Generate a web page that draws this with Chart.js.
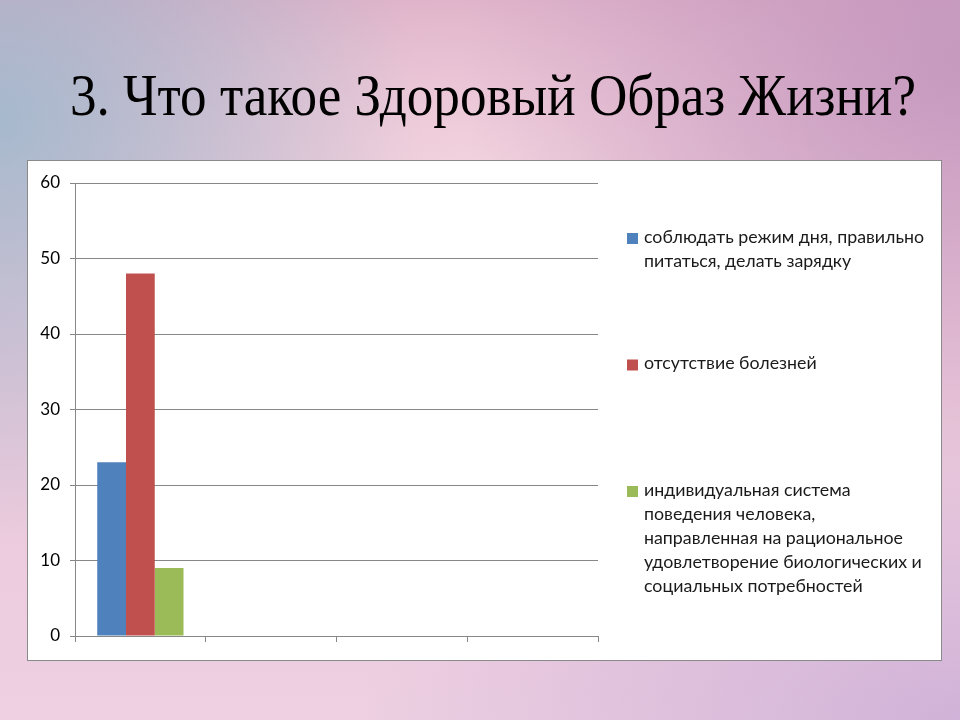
<!DOCTYPE html>
<html>
<head>
<meta charset="utf-8">
<script src="https://cdn.jsdelivr.net/npm/chart.js@4.4.1/dist/chart.umd.min.js"></script>
<style>
  html, body { margin: 0; padding: 0; }
  body {
    width: 960px; height: 720px; position: relative; overflow: hidden;
    background:
      radial-gradient(ellipse 420px 420px at 0px 120px, rgba(160,185,205,0.9), rgba(160,185,205,0) 100%),
      radial-gradient(ellipse 500px 420px at 960px 60px, rgba(195,150,190,0.9), rgba(195,150,190,0) 100%),
      radial-gradient(ellipse 600px 300px at 960px 720px, rgba(205,175,215,0.9), rgba(205,175,215,0) 100%),
      radial-gradient(ellipse 600px 240px at 480px 170px, rgba(245,215,225,0.85), rgba(245,215,225,0) 100%),
      linear-gradient(180deg, #d9a9c3 0%, #e9c4d7 40%, #eed0e2 100%);
  }
  h1 {
    position: absolute; left: 70px; top: 60px; margin: 0;
    white-space: nowrap; transform-origin: 0 0; transform: scaleX(0.9);
    font-family: "Liberation Serif", "DejaVu Serif", serif;
    font-weight: normal; font-size: 59px; line-height: 70px; color: #000;
  }
  #box {
    position: absolute; left: 27px; top: 160px; width: 913px; height: 499px;
    background: #fff; border: 1px solid #8a8a8a;
  }
  #box canvas { display: block; }
</style>
</head>
<body>
<h1>3. Что такое Здоровый Образ Жизни?</h1>
<div id="box"><canvas id="grafico" width="913" height="499"></canvas></div>
<script>
// dados do grafico
var categorias = ["Категория 1", "Категория 2", "Категория 3", "Категория 4"];
var nomes_series = [
  "соблюдать режим дня, правильно питаться, делать зарядку",
  "отсутствие болезней",
  "индивидуальная система поведения человека, направленная на рациональное удовлетворение биологических и социальных потребностей"
];
var serie_1 = [23, null, null, null];
var serie_2 = [48, null, null, null];
var serie_3 = [9, null, null, null];
var cores = ["#4F81BD", "#C0504D", "#9BBB59"];
var ticks_y = [0, 10, 20, 30, 40, 50, 60];

var fonte = "Lato, 'Open Sans', sans-serif";

// legenda desenhada a direita, com quebra de linha
const legenda_direita = {
  id: "legenda_direita",
  afterDraw(chart) {
    var c = chart.ctx;
    var x0 = 599, topo = 72, passo = 126.5, alturaLinha = 24, larguraMax = 285;
    c.save();
    c.font = "17.8px " + fonte;
    c.textBaseline = "top";
    chart.data.datasets.forEach(function (ds, i) {
      var y = topo + i * passo;
      c.fillStyle = ds.backgroundColor;
      c.fillRect(x0, y, 11, 11);
      var palavras = ds.label.split(" ");
      var linhas = [], atual = "";
      palavras.forEach(function (p) {
        var teste = atual ? atual + " " + p : p;
        if (c.measureText(teste).width > larguraMax && atual) {
          linhas.push(atual);
          atual = p;
        } else {
          atual = teste;
        }
      });
      linhas.push(atual);
      c.fillStyle = "#1a1a1a";
      linhas.forEach(function (l, k) {
        c.fillText(l, x0 + 17, y - 5 + k * alturaLinha);
      });
    });
    c.restore();
  }
};

var ctx = document.getElementById("grafico");

var myChart = new Chart(ctx, {
  type: "bar",
  data: {
    labels: categorias,
    datasets: [
      { label: nomes_series[0], data: serie_1, backgroundColor: cores[0] },
      { label: nomes_series[1], data: serie_2, backgroundColor: cores[1] },
      { label: nomes_series[2], data: serie_3, backgroundColor: cores[2] }
    ]
  },
  options: {
    responsive: false,
    animation: false,
    layout: { padding: { top: 22, right: 343, left: 0, bottom: 0 } },
    categoryPercentage: 0.66,
    barPercentage: 1.0,
    plugins: {
      legend: { display: false },
      tooltip: { enabled: false }
    },
    scales: {
      x: {
        ticks: { display: false },
        grid: {
          drawOnChartArea: false,
          drawTicks: true,
          tickLength: 6,
          color: "#878787",
          offset: true
        },
        border: { color: "#878787" },
        afterFit: function (s) { s.height = 24; }
      },
      y: {
        min: 0,
        max: 60,
        afterBuildTicks: function (s) { s.ticks = ticks_y.map(function (v) { return { value: v }; }); },
        ticks: {
          color: "#000",
          padding: 10,
          font: { family: fonte, size: 17 }
        },
        grid: { color: "#878787", tickLength: 5 },
        border: { color: "#878787" },
        afterFit: function (s) { s.width = 47; }
      }
    }
  },
  plugins: [legenda_direita]
});
</script>
</body>
</html>
